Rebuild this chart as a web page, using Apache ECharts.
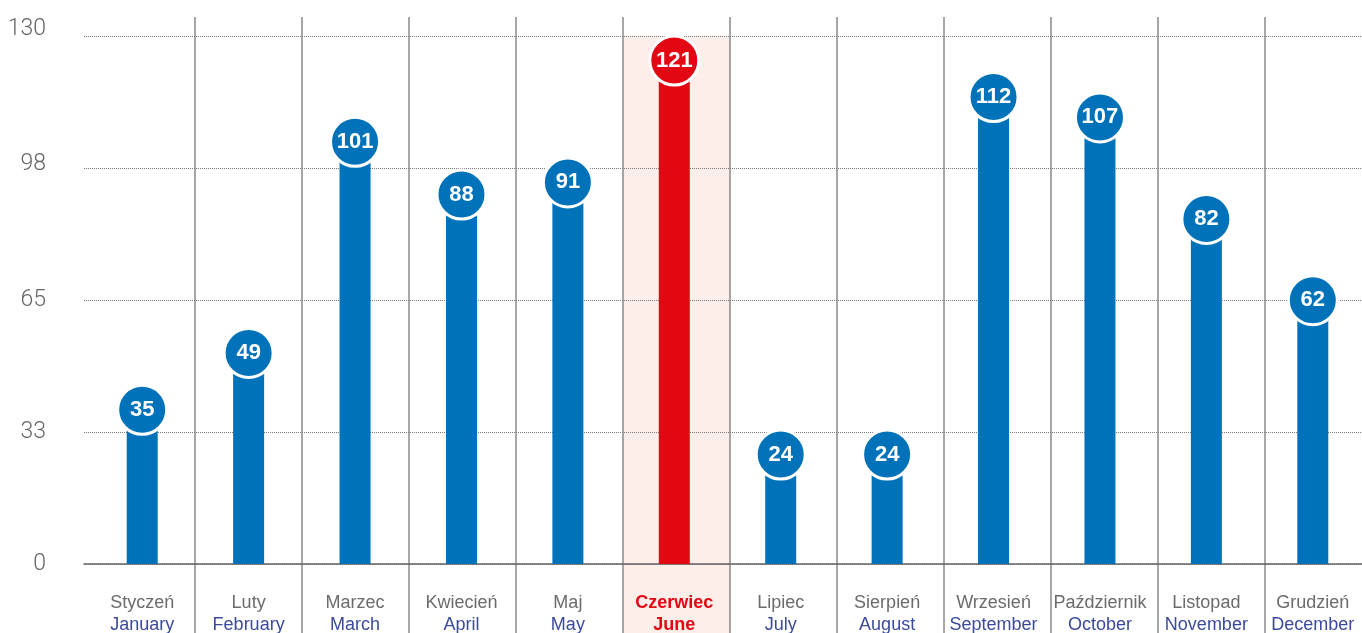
<!DOCTYPE html>
<html>
<head>
<meta charset="utf-8">
<title>Miesięczne wartości</title>
<script src="https://cdn.jsdelivr.net/npm/echarts@6/dist/echarts.min.js"></script>
<style>
  html, body { margin: 0; padding: 0; background: #ffffff; }
  #chart { width: 1362px; height: 633px; }
</style>
</head>
<body>
<div id="chart"></div>
<script>
// Month names (Polish / English)
const monthsPl = ['Styczeń', 'Luty', 'Marzec', 'Kwiecień', 'Maj', 'Czerwiec', 'Lipiec', 'Sierpień', 'Wrzesień', 'Październik', 'Listopad', 'Grudzień'];
const monthsEn = ['January', 'February', 'March', 'April', 'May', 'June', 'July', 'August', 'September', 'October', 'November', 'December'];
// Monthly values
const values = [35, 49, 101, 88, 91, 121, 24, 24, 112, 107, 82, 62];
// Highlighted month (index into the arrays above)
const highlightIndex = 5;
// Value axis
const yMin = 0;
const yMax = 130;
const yInterval = 32.5;
const yTickLabels = ['0', '33', '65', '98', '130'];

const BLUE = '#0072b9';
const RED = '#e30613';
const PINK = '#fdeee9';
const LABEL_FONT = '"Liberation Sans", Arial, Helvetica, sans-serif';
const TICK_FONT = 'Roboto, "Liberation Sans", Arial, sans-serif';

const categories = monthsPl.map((_, i) => i);
const highlightData = categories.map(i => (i === highlightIndex ? 1 : null));

// Column frames run 10px past the right edge of the canvas
const gridBase = { outerBoundsMode: 'none', containLabel: false };
const columnsBox = Object.assign({ left: 88, width: 1284 }, gridBase);
const barsBox = Object.assign({ left: 89, width: 1277 }, gridBase);

const chart = echarts.init(document.getElementById('chart'), null, { renderer: 'canvas' });

chart.setOption({
  animation: false,
  backgroundColor: '#ffffff',
  grid: [
    Object.assign({ top: 36, bottom: 69 }, barsBox),      // bars, value axis, month labels
    Object.assign({ top: 17, bottom: 0 }, columnsBox),    // column separators
    Object.assign({ top: 36, bottom: 0 }, columnsBox),    // highlighted column
    Object.assign({ top: 36, bottom: 69, left: 84, right: 0 }, gridBase)  // gridlines and base line
  ],
  xAxis: [
    {
      gridIndex: 0,
      type: 'category',
      data: categories,
      z: 1,
      axisLine: { show: false },
      axisTick: { show: false },
      splitLine: { show: false },
      axisLabel: {
        interval: 0,
        margin: 28,
        formatter: (v) => {
          const idx = Number(v);
          if (idx === highlightIndex) {
            return '{hp|' + monthsPl[idx] + '}\n{he|' + monthsEn[idx] + '}';
          }
          return '{pl|' + monthsPl[idx] + '}\n{en|' + monthsEn[idx] + '}';
        },
        rich: {
          pl: { fontFamily: LABEL_FONT, fontSize: 18, fontWeight: 'normal', color: '#6b6b6b', lineHeight: 22 },
          en: { fontFamily: LABEL_FONT, fontSize: 18, fontWeight: 'normal', color: '#3b4a9c', lineHeight: 22 },
          hp: { fontFamily: LABEL_FONT, fontSize: 18, fontWeight: 'bold', color: RED, lineHeight: 22 },
          he: { fontFamily: LABEL_FONT, fontSize: 18, fontWeight: 'bold', color: RED, lineHeight: 22 }
        }
      }
    },
    {
      gridIndex: 1,
      type: 'category',
      data: categories,
      z: 1,
      axisLine: { show: false },
      axisTick: { show: false },
      axisLabel: { show: false },
      splitLine: {
        show: true,
        showMinLine: false,
        interval: 0,
        lineStyle: { color: '#8a8a8a', width: 1.5 }
      }
    },
    {
      gridIndex: 2,
      type: 'category',
      data: categories,
      show: false
    },
    {
      gridIndex: 3,
      type: 'value',
      min: 0,
      max: 1,
      z: 2,
      axisLine: { show: true, onZero: false, lineStyle: { color: '#666666', width: 1.5 } },
      axisTick: { show: false },
      axisLabel: { show: false },
      splitLine: { show: false }
    }
  ],
  yAxis: [
    {
      gridIndex: 0,
      type: 'value',
      min: yMin,
      max: yMax,
      interval: yInterval,
      z: 1,
      axisLine: { show: false },
      axisTick: { show: false },
      splitLine: { show: false },
      axisLabel: {
        margin: 43,
        formatter: (v, i) => {
          const label = yTickLabels[i];
          if (i === yTickLabels.length - 1) return '{top|' + label + '}';
          if (i === yTickLabels.length - 2) return '{mid|' + label + '}';
          return '{base|' + label + '}';
        },
        rich: {
          base: { fontFamily: TICK_FONT, fontSize: 23, fontWeight: 300, color: '#666666' },
          mid: { fontFamily: TICK_FONT, fontSize: 23, fontWeight: 300, color: '#666666', padding: [0, 0, 8, 0] },
          top: { fontFamily: TICK_FONT, fontSize: 23, fontWeight: 300, color: '#666666', padding: [0, 0, 14, 0] }
        }
      }
    },
    { gridIndex: 1, type: 'value', min: 0, max: 1, show: false, splitLine: { show: false } },
    { gridIndex: 2, type: 'value', min: 0, max: 1, show: false, splitLine: { show: false } },
    {
      gridIndex: 3,
      type: 'value',
      min: yMin,
      max: yMax,
      interval: yInterval,
      z: 1,
      axisLine: { show: false },
      axisTick: { show: false },
      axisLabel: { show: false },
      splitLine: { show: true, lineStyle: { type: 'dotted', color: '#7a7a7a', width: 1 } }
    }
  ],
  series: [
    {
      name: 'highlight',
      type: 'bar',
      xAxisIndex: 2,
      yAxisIndex: 2,
      data: highlightData,
      barWidth: '100%',
      z: 0,
      silent: true,
      itemStyle: { color: PINK }
    },
    {
      name: 'values',
      type: 'bar',
      xAxisIndex: 0,
      yAxisIndex: 0,
      barWidth: 31,
      z: 2,
      data: values.map((v, i) => ({ value: v, itemStyle: { color: i === highlightIndex ? RED : BLUE } }))
    },
    {
      name: 'badges',
      type: 'scatter',
      xAxisIndex: 0,
      yAxisIndex: 0,
      z: 3,
      symbol: 'circle',
      symbolSize: 49,
      symbolOffset: [0, -12],
      data: values.map((v, i) => ({
        value: [i, v],
        itemStyle: { color: i === highlightIndex ? RED : BLUE }
      })),
      itemStyle: { borderColor: '#ffffff', borderWidth: 3, opacity: 1 },
      label: {
        show: true,
        position: 'inside',
        formatter: p => String(p.value[1]),
        fontFamily: LABEL_FONT,
        fontSize: 22,
        fontWeight: 'bold',
        color: '#ffffff'
      }
    }
  ]
});
</script>
</body>
</html>
